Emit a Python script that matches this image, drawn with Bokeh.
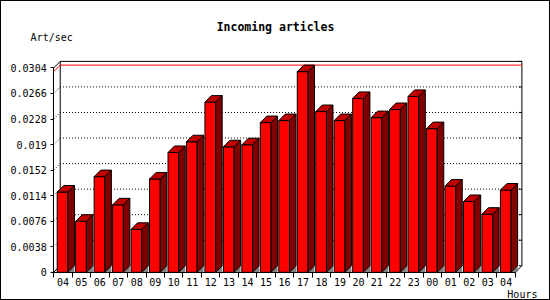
from bokeh.plotting import figure
from bokeh.models import Range1d, FixedTicker, Label
from bokeh.embed import file_html
from bokeh.resources import INLINE

# ---- data ----
hours = ["04", "05", "06", "07", "08", "09", "10", "11", "12", "13", "14", "15",
         "16", "17", "18", "19", "20", "21", "22", "23", "00", "01", "02", "03", "04"]
rates = [0.01194, 0.00759, 0.01423, 0.01003, 0.00639, 0.01388, 0.01782, 0.01942,
         0.02531, 0.01867, 0.01897, 0.02227, 0.02257, 0.02985, 0.02391, 0.02257,
         0.02586, 0.02301, 0.02421, 0.02616, 0.02137, 0.01283, 0.01053, 0.00864,
         0.01223]
y_ticks = [0, 0.0038, 0.0076, 0.0114, 0.0152, 0.019, 0.0228, 0.0266, 0.0304]
y_tick_labels = ["0", "0.0038", "0.0076", "0.0114", "0.0152", "0.019", "0.0228",
                 "0.0266", "0.0304"]
title_text = "Incoming articles"
y_unit = "Art/sec"
x_unit = "Hours"

# ---- layout (screen pixels) ----
W, H = 550, 300
B = 1            # outer border (css, border-box)
X0, Y0 = 53, 270  # screen position of the axes origin
CAT_PX = 18.4
Y_PX = 203 / y_ticks[-1]
n = len(rates)


def sx(px):
    return (px - X0) / CAT_PX


def sy(py):
    return (Y0 - py) / Y_PX


DX = 6.5 / CAT_PX
DY = 6.5 / Y_PX
FONT = "DejaVu Sans Mono"

p = figure(width=W, height=H, output_backend="svg", toolbar_location=None,
           x_range=Range1d(sx(B), sx(W - B)), y_range=Range1d(sy(H - B), sy(B)),
           min_border=0, min_border_left=0, min_border_right=0,
           min_border_top=0, min_border_bottom=0)
p.styles = {"border": "1px solid black", "box-sizing": "border-box"}
p.outline_line_color = None
p.xgrid.visible = False
p.ygrid.visible = False
p.background_fill_color = "white"
p.border_fill_color = "white"

# x axis
xa = p.xaxis[0]
xa.fixed_location = 0
xa.ticker = FixedTicker(ticks=[i + 0.5 for i in range(n)], minor_ticks=list(range(n + 1)))
xa.major_label_overrides = {i + 0.5: h for i, h in enumerate(hours)}
xa.major_tick_out = 0
xa.major_tick_in = 0
xa.minor_tick_out = 5
xa.minor_tick_in = 0
xa.minor_tick_line_color = "black"
xa.axis_line_color = "black"
xa.bounds = (0, n)
xa.major_label_standoff = 1
xa.major_label_text_font = FONT
xa.major_label_text_font_size = "10px"
xa.major_label_text_color = "black"

# y axis
ya = p.yaxis[0]
ya.fixed_location = 0
ya.ticker = FixedTicker(ticks=y_ticks, minor_ticks=[])
ya.major_label_overrides = {t: s for t, s in zip(y_ticks, y_tick_labels)}
ya.major_tick_out = 3
ya.major_tick_in = 0
ya.minor_tick_out = 0
ya.minor_tick_in = 0
ya.axis_line_color = "black"
ya.major_tick_line_color = "black"
ya.bounds = (0, y_ticks[-1])
ya.major_label_standoff = 4
ya.major_label_text_font = FONT
ya.major_label_text_font_size = "10px"
ya.major_label_text_color = "black"

top = y_ticks[-1]
xr = n + DX

# back wall grid (dotted)
grid_levels = y_ticks[1:-1]
p.multi_line([[0, DX, xr] for g in grid_levels],
             [[g, g + DY, g + DY] for g in grid_levels],
             line_color="black", line_width=1, line_dash="1 2")
# right ticks on back wall
p.segment(x0=[xr - 3 / CAT_PX] * len(y_ticks), y0=[g + DY for g in y_ticks],
          x1=[xr] * len(y_ticks), y1=[g + DY for g in y_ticks], line_color="black")
# back wall frame
p.multi_line([[0, DX, xr, xr, n], [DX, DX], [0, DX]],
             [[top, top + DY, top + DY, DY, 0], [DY, top + DY], [0, DY]],
             line_color="black", line_width=1)
# max line (red)
m = max(rates)
p.line([0, DX, xr], [m, m + DY, m + DY], line_color="#ff0000", line_width=1)

# bars
lefts = [i + 0.19 for i in range(n)]
rights = [i + 0.77 for i in range(n)]
p.patches([[r, r + DX, r + DX] for r in rights], [[0, DY, 0] for r in rights],
          fill_color="#808080", line_color=None)
p.quad(left=lefts, right=rights, bottom=0, top=rates,
       fill_color="#ff0000", line_color="black", line_width=1)
p.patches([[r, r + DX, r + DX, r] for r in rights],
          [[v, v + DY, DY, 0] for v in rates],
          fill_color="#800000", line_color="black", line_width=1)
p.patches([[l, l + DX, r + DX, r] for l, r in zip(lefts, rights)],
          [[v, v + DY, v + DY, v] for v in rates],
          fill_color="#c00000", line_color="black", line_width=1)

# texts
p.add_layout(Label(x=sx(274), y=sy(26.7), text=title_text, text_align="center",
                   text_baseline="middle", text_font=FONT, text_font_size="11.5px",
                   text_font_style="bold", text_color="black"))
p.add_layout(Label(x=sx(30), y=sy(36.8), text=y_unit, text_align="left",
                   text_baseline="middle", text_font=FONT, text_font_size="10px",
                   text_color="black"))
p.add_layout(Label(x=sx(505), y=sy(292.2), text=x_unit, text_align="left",
                   text_baseline="middle", text_font=FONT, text_font_size="10px",
                   text_color="black"))

open("out.html", "w").write(file_html(p, INLINE))
